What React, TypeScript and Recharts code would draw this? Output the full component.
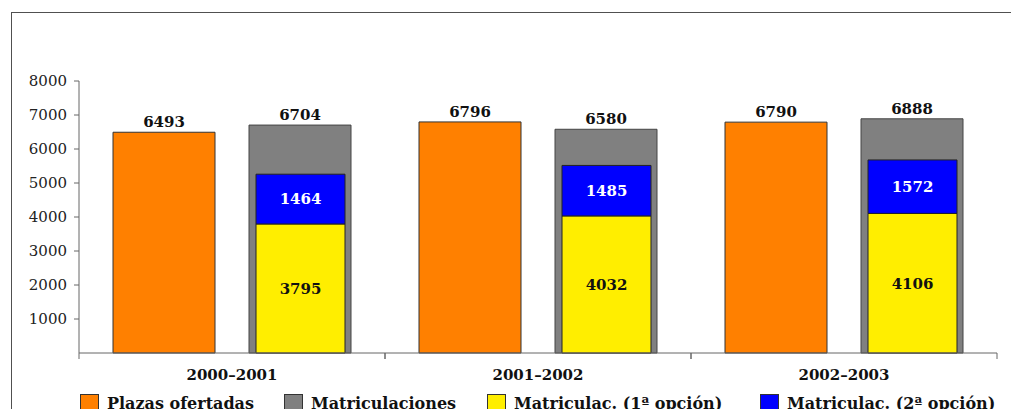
import { Bar, BarChart, LabelList, XAxis, YAxis } from "recharts"

// Cursos académicos
const years = ["2000–2001", "2001–2002", "2002–2003"]

// Valores de cada serie
const plazas = [6493, 6796, 6790]
const matriculaciones = [6704, 6580, 6888]
const primeraOpcion = [3795, 4032, 4106]
const segundaOpcion = [1464, 1485, 1572]

const yTicks = [1000, 2000, 3000, 4000, 5000, 6000, 7000, 8000]

const legendItems = [
  { label: "Plazas ofertadas", color: "#FF8000" },
  { label: "Matriculaciones", color: "#808080" },
  { label: "Matriculac. (1ª opción)", color: "#FFEE00" },
  { label: "Matriculac. (2ª opción)", color: "#0000FF" },
]
const legendLefts = [72, 276, 479, 752]

const chartData = years.map((year, i) => ({
  year,
  plazas: plazas[i],
  matriculaciones: matriculaciones[i],
  primera: primeraOpcion[i],
  segunda: segundaOpcion[i],
}))

const FONT = "'DejaVu Serif', serif"
const AXIS = "#666666"
const W = 1003
const H = 380
const MARGIN = { top: 73, right: 14, left: 0, bottom: 5 }
const Y_W = 71
const BAND = (W - MARGIN.left - MARGIN.right - Y_W) / years.length

function YearTick(props: any) {
  const { x, y, payload } = props
  // y = eje + tickSize(6) + tickMargin(10)
  return (
    <g>
      <line x1={x - BAND / 2} x2={x - BAND / 2} y1={y - 16} y2={y - 10} stroke={AXIS} />
      <line x1={x + BAND / 2} x2={x + BAND / 2} y1={y - 16} y2={y - 10} stroke={AXIS} />
      <text x={x} y={y} dy="0.71em" textAnchor="middle" fontFamily={FONT} fontSize={15} fontWeight="bold" fill="#111">
        {payload.value}
      </text>
    </g>
  )
}

const labelStyle = { fontFamily: FONT, fontSize: 15, fontWeight: "bold" as const }

export default function App() {
  return (
    <div style={{ position: "relative", width: W, height: 401 }}>
      <div
        style={{
          position: "absolute",
          left: 3,
          top: 4,
          width: 1006,
          height: 405,
          borderTop: "1px solid #505050",
          borderLeft: "1px solid #505050",
          borderRight: "1px solid #505050",
          boxSizing: "border-box",
        }}
      />
      <div style={{ position: "absolute", left: 0, top: 0 }}>
        <BarChart width={W} height={H} data={chartData} margin={MARGIN} barGap={34}>
          <XAxis
            xAxisId="main"
            dataKey="year"
            stroke={AXIS}
            tickLine={false}
            tickSize={6}
            tickMargin={10}
            height={30}
            tick={<YearTick />}
            interval={0}
          />
          <XAxis xAxisId="inner" dataKey="year" hide height={0} />
          <YAxis
            width={Y_W}
            domain={[0, 8000]}
            ticks={yTicks}
            stroke={AXIS}
            tickSize={5}
            tickMargin={7}
            interval={0}
            tick={{ fontFamily: FONT, fontSize: 15, fill: "#222" }}
          />
          <Bar xAxisId="main" dataKey="plazas" barSize={102} fill="#FF8000" stroke="#333" isAnimationActive={false}>
            <LabelList dataKey="plazas" position="top" offset={5} fill="#111" style={labelStyle} />
          </Bar>
          <Bar xAxisId="main" dataKey="matriculaciones" barSize={102} fill="#808080" stroke="#444" isAnimationActive={false}>
            <LabelList dataKey="matriculaciones" position="top" offset={5} fill="#111" style={labelStyle} />
          </Bar>
          {/* hueco invisible para alinear las barras interiores con las grises */}
          <Bar xAxisId="inner" dataKey="plazas" stackId="hueco" barSize={102} fill="none" fillOpacity={0} stroke="none" isAnimationActive={false} />
          <Bar xAxisId="inner" dataKey="primera" stackId="m" barSize={89} fill="#FFEE00" stroke="#222" isAnimationActive={false}>
            <LabelList dataKey="primera" position="center" fill="#111" style={labelStyle} />
          </Bar>
          <Bar xAxisId="inner" dataKey="segunda" stackId="m" barSize={89} fill="#0000FF" stroke="#222" isAnimationActive={false}>
            <LabelList dataKey="segunda" position="center" fill="#fff" style={labelStyle} />
          </Bar>
        </BarChart>
      </div>
      {legendItems.map((item, i) => (
        <div
          key={item.label}
          style={{
            position: "absolute",
            left: legendLefts[i],
            top: 386,
            display: "flex",
            alignItems: "center",
            fontFamily: FONT,
            fontSize: 16,
            fontWeight: "bold",
            color: "#111",
            whiteSpace: "nowrap",
          }}
        >
          <span
            style={{
              display: "inline-block",
              width: 17,
              height: 17,
              background: item.color,
              border: "1px solid #333",
              marginRight: 8,
            }}
          />
          {item.label}
        </div>
      ))}
    </div>
  )
}
